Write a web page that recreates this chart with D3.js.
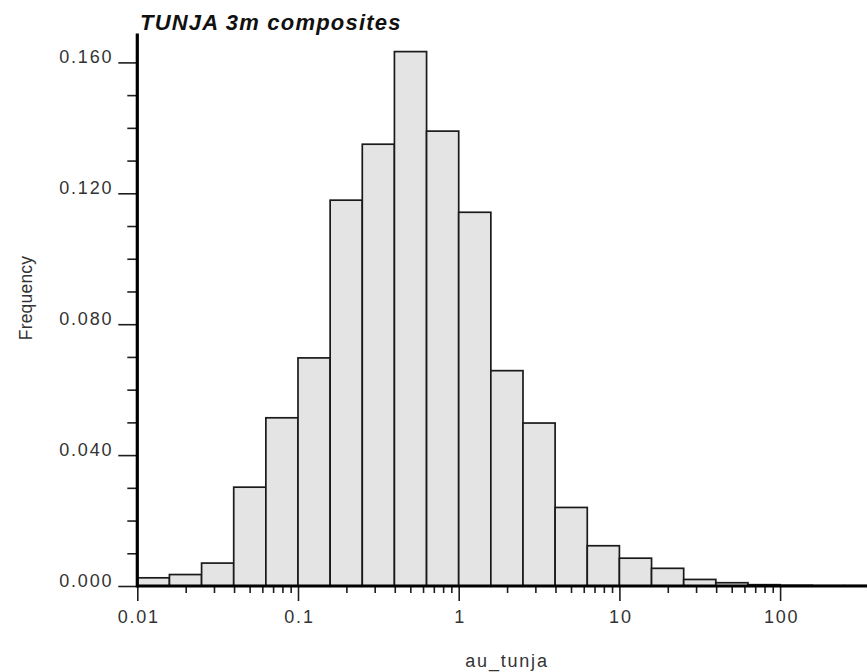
<!DOCTYPE html>
<html>
<head>
<meta charset="utf-8">
<script src="https://cdn.jsdelivr.net/npm/d3@7"></script>
<style>
  html, body { margin: 0; padding: 0; background: #fff; }
  svg { display: block; }
  text { font-family: "Liberation Sans", Arial, Helvetica, sans-serif; }
</style>
</head>
<body>
<svg id="chart" width="867" height="672"></svg>
<script>
// ---- data ----
const title = "TUNJA 3m composites";
const xLabel = "au_tunja";
const yLabel = "Frequency";
// bin edges (au values, log-spaced 0.2 decade bins)
const binEdges = [0.01, 0.01585, 0.02512, 0.03981, 0.0631, 0.1, 0.1585, 0.2512, 0.3981, 0.631,
                  1, 1.585, 2.512, 3.981, 6.31, 10, 15.85, 25.12, 39.81, 63.1, 100, 158.5, 251.2, 398.1];
// frequency per bin
const frequencies = [0.0025, 0.0035, 0.0070, 0.0302, 0.0514, 0.0697, 0.1179, 0.1350, 0.1633, 0.1390,
                     0.1142, 0.0658, 0.0498, 0.0240, 0.0123, 0.0085, 0.0054, 0.0020, 0.0010, 0.0004,
                     0.0002, 0.0001, 0.0001];
const xMajorTicks = [0.01, 0.1, 1, 10, 100];
const xTickLabels = ["0.01", "0.1", "1", "10", "100"];
const xMinorTicks = [0.02,0.03,0.04,0.05,0.06,0.07,0.08,0.09,
                     0.2,0.3,0.4,0.5,0.6,0.7,0.8,0.9,
                     2,3,4,5,6,7,8,9,
                     20,30,40,50,60,70,80,90];
const yMajorTicks = [0, 0.04, 0.08, 0.12, 0.16];
const yTickLabels = ["0.000", "0.040", "0.080", "0.120", "0.160"];
const yMinorTicks = [0.01,0.02,0.03,0.05,0.06,0.07,0.09,0.10,0.11,0.13,0.14,0.15];
const yAxisTop = 0.1688;

// ---- layout ----
const svg = d3.select("#chart");
const x = d3.scaleLog().domain([0.01, 100]).range([137.3, 780.1]);
const y = d3.scaleLinear().domain([0, 0.16]).range([586, 62.4]);

const bins = frequencies.map((f, i) => ({ x0: binEdges[i], x1: binEdges[i + 1], f }));

// bars
svg.append("g").selectAll("rect").data(bins).join("rect")
  .attr("x", d => x(d.x0))
  .attr("y", d => y(d.f))
  .attr("width", d => x(d.x1) - x(d.x0))
  .attr("height", d => y(0) - y(d.f))
  .attr("fill", "#e4e4e4")
  .attr("stroke", "#1a1a1a")
  .attr("stroke-width", 1.7);

// x axis: major ticks
const xAxisMajor = d3.axisBottom(x).tickValues(xMajorTicks)
  .tickFormat((d, i) => xTickLabels[i]).tickSize(15).tickPadding(9);
const gxM = svg.append("g").attr("transform", `translate(0,${y(0)})`).call(xAxisMajor);
gxM.select(".domain").remove();
gxM.selectAll("line").attr("stroke", "#1e1e1e").attr("stroke-width", 1.6);
gxM.selectAll("text").attr("font-size", 18).attr("letter-spacing", "1.8px")
  .attr("fill", "#333").attr("dx", "1px");

const xAxisMinor = d3.axisBottom(x).tickValues(xMinorTicks).tickFormat("").tickSize(7);
const gxm = svg.append("g").attr("transform", `translate(0,${y(0)})`).call(xAxisMinor);
gxm.select(".domain").remove();
gxm.selectAll("line").attr("stroke", "#1e1e1e").attr("stroke-width", 1.6);

// y axis ticks
const yAxisMajor = d3.axisLeft(y).tickValues(yMajorTicks)
  .tickFormat((d, i) => yTickLabels[i]).tickSize(19).tickPadding(5);
const gyM = svg.append("g").attr("transform", `translate(${x(0.01)},0)`).call(yAxisMajor);
gyM.select(".domain").remove();
gyM.selectAll("line").attr("stroke", "#1e1e1e").attr("stroke-width", 1.6);
gyM.selectAll("text").attr("font-size", 18).attr("letter-spacing", "1.8px")
  .attr("fill", "#333").attr("dy", "0").attr("y", 0);

const yAxisMinor = d3.axisLeft(y).tickValues(yMinorTicks).tickFormat("").tickSize(10);
const gym = svg.append("g").attr("transform", `translate(${x(0.01)},0)`).call(yAxisMinor);
gym.select(".domain").remove();
gym.selectAll("line").attr("stroke", "#1e1e1e").attr("stroke-width", 1.6);

// thick axis lines
svg.append("line")
  .attr("x1", x(0.01)).attr("x2", 870)
  .attr("y1", y(0)).attr("y2", y(0))
  .attr("stroke", "#000").attr("stroke-width", 3.2);
svg.append("line")
  .attr("x1", x(0.01)).attr("x2", x(0.01))
  .attr("y1", y(yAxisTop)).attr("y2", y(0) + 1.6)
  .attr("stroke", "#000").attr("stroke-width", 3.2);

// title
svg.append("text")
  .attr("x", 140).attr("y", 30)
  .attr("font-size", 22).attr("font-weight", "bold").attr("font-style", "italic")
  .attr("letter-spacing", "1.2px")
  .attr("fill", "#111")
  .text(title);

// axis labels
svg.append("text")
  .attr("x", 507).attr("y", 667)
  .attr("text-anchor", "middle")
  .attr("font-size", 18).attr("letter-spacing", "1.8px")
  .attr("fill", "#333")
  .text(xLabel);

svg.append("text")
  .attr("transform", "translate(32,298) rotate(-90)")
  .attr("text-anchor", "middle")
  .attr("font-size", 17.5).attr("letter-spacing", "0.2px")
  .attr("fill", "#333")
  .text(yLabel);
</script>
</body>
</html>
